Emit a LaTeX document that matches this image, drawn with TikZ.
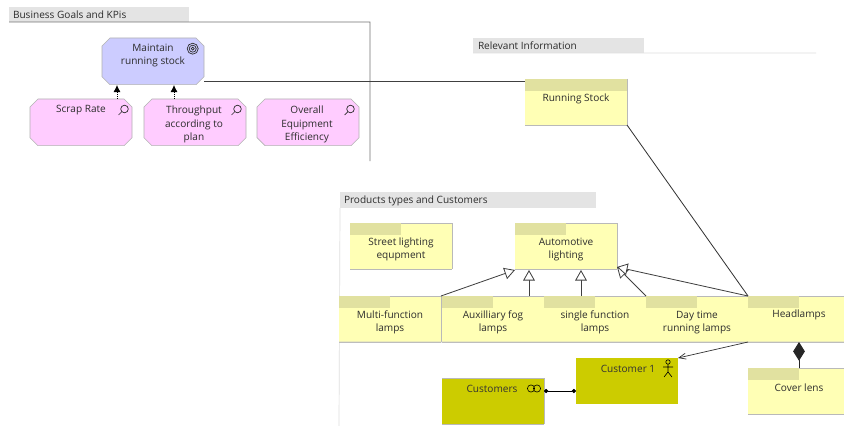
\documentclass[tikz,border=0pt]{standalone}
\usepackage{fontspec}
\setmainfont{Open Sans}
\usetikzlibrary{arrows.meta}
\definecolor{noteyellow}{RGB}{255,255,181}
\definecolor{tabyellow}{RGB}{225,225,160}
\definecolor{kpipink}{RGB}{255,204,255}
\definecolor{goalblue}{RGB}{204,204,255}
\definecolor{roleolive}{RGB}{204,204,0}
\definecolor{headgrey}{RGB}{228,228,228}
\definecolor{inktext}{RGB}{45,45,45}
\tikzset{
  every node/.style={inner sep=0pt,outer sep=0pt},
  lbl/.style={align=center,text=inktext,font=\fontsize{8.6}{11.2}\selectfont},
  head/.style={anchor=north west,fill=headgrey,minimum height=0.45cm},
  headtxt/.style={lbl,anchor=west},
  edgeline/.style={draw=gray!55,line width=0.5pt},
  edges/.style={append after command={
    (\tikzlastnode.north west) edge[edgeline] (\tikzlastnode.north east)
    (\tikzlastnode.north east) edge[edgeline] (\tikzlastnode.south east)
    (\tikzlastnode.south west) edge[edgeline] (\tikzlastnode.south east)}},
  note/.style={anchor=north west,fill=noteyellow,edges,minimum width=3.06cm,minimum height=1.38cm},
  tabbox/.style={anchor=north west,fill=tabyellow,minimum width=1.53cm,minimum height=0.36cm},
  octa/.style={anchor=north west,minimum width=3.06cm,minimum height=1.4cm},
  role/.style={anchor=north west,fill=roleolive,minimum width=3.06cm,minimum height=1.38cm},
  glass/.pic={\draw[inktext,line width=0.6pt] (1.5,-1.5) circle (3.8) (-1.2,1.2)--(-4.5,4.5);},
  frame/.style={gray!90!black,line width=0.7pt},
  gen/.style={-{Triangle[open,fill=white,length=9pt,width=10pt]},line width=0.7pt,black!75},
  real/.style={densely dotted,-{Latex[length=6pt,width=6pt]},line width=0.7pt,black},
  comp/.style={{Diamond[length=16pt,width=10pt]}-,line width=0.8pt,black!85},
  dot/.style={{Circle[length=3.5pt]}-{Circle[length=3.5pt]},line width=0.7pt,black},
}
\newcommand{\octabox}[3]{
  \node[octa] (#1) at (#2) {};
  \filldraw[fill=#3,draw=gray!60,line width=0.5pt]
    ([xshift=0.24cm]#1.north west) -- ([xshift=-0.24cm]#1.north east)
    -- ([yshift=-0.24cm]#1.north east) -- ([yshift=0.24cm]#1.south east)
    -- ([xshift=-0.24cm]#1.south east) -- ([xshift=0.24cm]#1.south west)
    -- ([yshift=0.24cm]#1.south west) -- ([yshift=-0.24cm]#1.north west) -- cycle;
}
\begin{document}
\begin{tikzpicture}[x=0.03cm,y=-0.03cm]
\useasboundingbox (0,0) rectangle (844,426);
\fill[white] (0,0) rectangle (844,426);

% group headers
\node[head,minimum width=5.4cm] (bizhead) at (9,7) {};
\node[headtxt] (biztxt) at (13,14.5) {Business Goals and KPis};
\node[head,minimum width=5.13cm] (infohead) at (473,38) {};
\node[headtxt] (infotxt) at (478,45.5) {Relevant Information};
\node[head,minimum width=7.68cm,minimum height=0.48cm] (prodhead) at (340,192) {};
\node[headtxt] (prodtxt) at (344,200.5) {Products types and Customers};
\coordinate (bizcorner) at (370,22);
\coordinate (bizend) at (370,161);
\coordinate (infoend) at (816,53);
\coordinate (prodend) at (339,426);
\coordinate (rowend) at (844,342);
\draw[frame] (bizhead.south west) -- (bizcorner) -- (bizend);
\draw[gray!25,line width=0.6pt] (infohead.south west) -- (infoend);
\draw[gray!25,line width=0.6pt] (prodhead.south west) -- (prodend);

% goal and kpis
\octabox{maintain}{102,38}{goalblue}
\node[lbl] (maintaintxt) at (153,55.5) {Maintain\\running stock};
\octabox{scrap}{30,99}{kpipink}
\node[lbl] (scraptxt) at (81,110.5) {Scrap Rate};
\octabox{through}{144,99}{kpipink}
\node[lbl] (throughtxt) at (194,124.5) {Throughput\\according to\\plan};
\octabox{overall}{257,99}{kpipink}
\node[lbl] (overalltxt) at (307,124.5) {Overall\\Equipment\\Efficiency};
\foreach \r in {1.5,3.5,5.5}
  \draw[inktext,line width=0.6pt] (192.7,48.7) circle (\r);
\pic at (123,110.5) {glass};
\pic at (236,110.5) {glass};
\pic at (349,110.5) {glass};

% information
\node[note] (stock) at (525,79) {};
\node[tabbox,minimum width=3.06cm] (stocktab) at (525,79) {};
\node[lbl] (stocktxt) at (576,98.5) {Running Stock};

% products
\node[note] (street) at (350,223) {};
\node[tabbox] (streettab) at (350,223) {};
\node[lbl] (streettxt) at (401,249.5) {Street lighting\\equpment};
\node[note] (auto) at (515,223) {};
\node[tabbox] (autotab) at (515,223) {};
\node[lbl] (autotxt) at (566,249.5) {Automotive\\lighting};
\node[note] (multi) at (339,296) {};
\node[tabbox] (multitab) at (339,296) {};
\node[lbl] (multitxt) at (390,322.5) {Multi-function\\lamps};
\node[note] (aux) at (442,296) {};
\node[tabbox] (auxtab) at (442,296) {};
\node[lbl] (auxtxt) at (493,322.5) {Auxilliary fog\\lamps};
\node[note] (single) at (544,296) {};
\node[tabbox] (singletab) at (544,296) {};
\node[lbl] (singletxt) at (595,322.5) {single function\\lamps};
\node[note] (day) at (646,296) {};
\node[tabbox] (daytab) at (646,296) {};
\node[lbl] (daytxt) at (697,322.5) {Day time\\running lamps};
\node[note,minimum width=2.9cm] (head) at (748,296) {};
\node[tabbox] (headtab) at (748,296) {};
\node[lbl] (headtxt) at (799,315) {Headlamps};
\node[note,minimum width=2.9cm] (cover) at (748,368) {};
\node[tabbox] (covertab) at (748,368) {};
\node[lbl] (covertxt) at (799,387.5) {Cover lens};
\draw[gray!45,line width=0.6pt] (multi.south west) -- (rowend);

% customers
\node[role,edges] (cust) at (442,378) {};
\node[lbl,text=black!80] (custtxt) at (492,389) {Customers};
\node[role] (custa) at (576,358) {};
\node[lbl,text=black!80] (custatxt) at (628,368.5) {Customer 1};
\draw[black,line width=0.5pt] (531,388.5) circle (3.6) (537,388.5) circle (3.6);
\draw[black,line width=0.5pt] (668,362) circle (2.2) (668,364)--(668,372) (663,367)--(673,367) (668,372)--(664,377) (668,372)--(672,377);

% connectors
\coordinate (goala) at (117,85);
\coordinate (goalb) at (174,85);
\coordinate (genmulti) at (515,270);
\coordinate (genaux) at (529,270);
\coordinate (gensingle) at (581,270);
\coordinate (genright) at (617,267);
\coordinate (stockin) at (525,81);
\coordinate (dotline) at (576,391);
\draw[real] (goala |- scrap.north) -- (goala);
\draw[real] (goalb |- through.north) -- (goalb);
\draw[black!75,line width=0.8pt] (maintain.south east |- stockin) -- (stockin);
\draw[black!80,line width=0.7pt] (stock.south east) -- (head.north west);
\draw[gen] (multi.north east) -- (genmulti);
\draw[gen] (genaux |- aux.north) -- (genaux);
\draw[gen] (gensingle |- single.north) -- (gensingle);
\draw[gen] (day.north west) -- (genright);
\draw[gen] (head.north west) -- (genright);
\draw[-{Straight Barb[length=6pt,width=5pt]},black!80,line width=0.6pt] (head.south west) -- (custa.north east);
\draw[comp] (covertab.north east |- head.south) -- (covertab.north east);
\draw[dot] (cust.east |- dotline) -- (dotline);
\end{tikzpicture}
\end{document}
